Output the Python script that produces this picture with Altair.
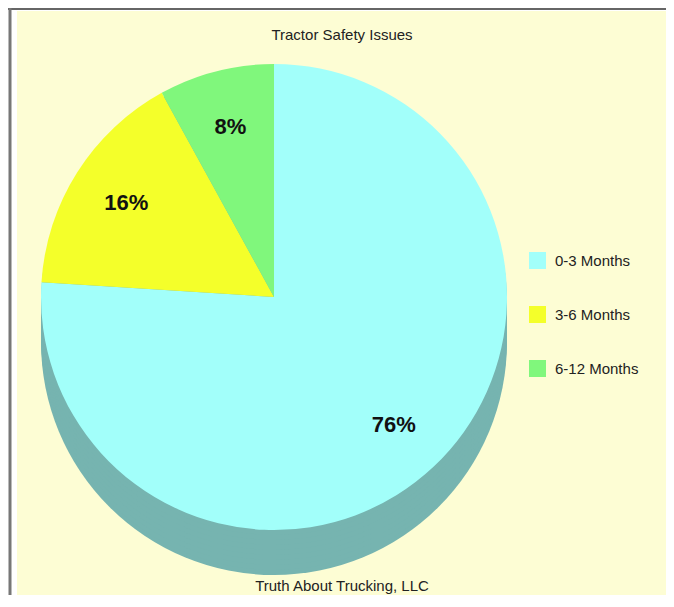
import math
import altair as alt
import pandas as pd

# ---- data ----
categories = ["0-3 Months", "3-6 Months", "6-12 Months"]
shares = [76, 16, 8]
share_labels = ["76%", "16%", "8%"]
slice_order = [0, 1, 2]
face_colors = ["#A2FFFA", "#F4FF2A", "#80F77C"]
shadow_color = "#76B4B0"
title_text = "Tractor Safety Issues"
footer_text = "Truth About Trucking, LLC"

df = pd.DataFrame({"cat": categories, "share": shares,
                   "label": share_labels, "ord": slice_order})

# ---- layout ----
W, H = 658, 587
CX, CY = 266, 289
R = 233
DEPTH = 45
FONT = "Liberation Sans, Arial, sans-serif"

one = alt.Data(values=[{"a": 1}])

bg = alt.Chart(one).mark_rect(color="#FDFDD4").encode(
    x=alt.value(9), x2=alt.value(W), y=alt.value(3), y2=alt.value(H))
top_line = alt.Chart(one).mark_rule(color="#666666", strokeWidth=2).encode(
    x=alt.value(0), x2=alt.value(W), y=alt.value(1))
left_line = alt.Chart(one).mark_rule(color="#777777", strokeWidth=3).encode(
    x=alt.value(2), y=alt.value(0), y2=alt.value(H))

shadows = [
    alt.Chart(one).mark_arc(outerRadius=R, theta=0, theta2=2 * math.pi,
                            color=shadow_color).encode(
        x=alt.value(CX), y=alt.value(CY + d))
    for d in range(DEPTH, 0, -5)
]

base = alt.Chart(df).encode(
    theta=alt.Theta("share:Q", stack=True),
    order=alt.Order("ord:Q"),
)

face = base.mark_arc(outerRadius=R).encode(
    x=alt.value(CX), y=alt.value(CY),
    color=alt.Color(
        "cat:N",
        sort=categories,
        scale=alt.Scale(domain=categories, range=face_colors),
        legend=alt.Legend(
            title=None, orient="none", legendX=521, legendY=244,
            symbolType="square", symbolSize=289, symbolStrokeWidth=0,
            symbolOpacity=1, labelFont=FONT, labelFontSize=15,
            labelColor="#222222", rowPadding=37, labelOffset=9, padding=0,
        ),
    ),
)

labels = base.mark_text(radius=175, font=FONT, fontSize=22, fontWeight="bold",
                        color="#111111", align="center",
                        baseline="middle").encode(
    x=alt.value(CX), y=alt.value(CY), text="label:N")

title = alt.Chart(one).mark_text(font=FONT, fontSize=15, color="#222222",
                                 align="center", baseline="middle").encode(
    x=alt.value(334), y=alt.value(27), text=alt.value(title_text))
footer = alt.Chart(one).mark_text(font=FONT, fontSize=15, color="#222222",
                                  align="center", baseline="middle").encode(
    x=alt.value(334), y=alt.value(578), text=alt.value(footer_text))

chart = alt.layer(bg, top_line, left_line, *shadows, face, labels, title,
                  footer).properties(
    width=W, height=H, padding=0, background="white",
    autosize=alt.AutoSizeParams(type="none"),
).configure_view(strokeOpacity=0)

chart.save("out.html", embed_options={"renderer": "svg", "actions": False})
